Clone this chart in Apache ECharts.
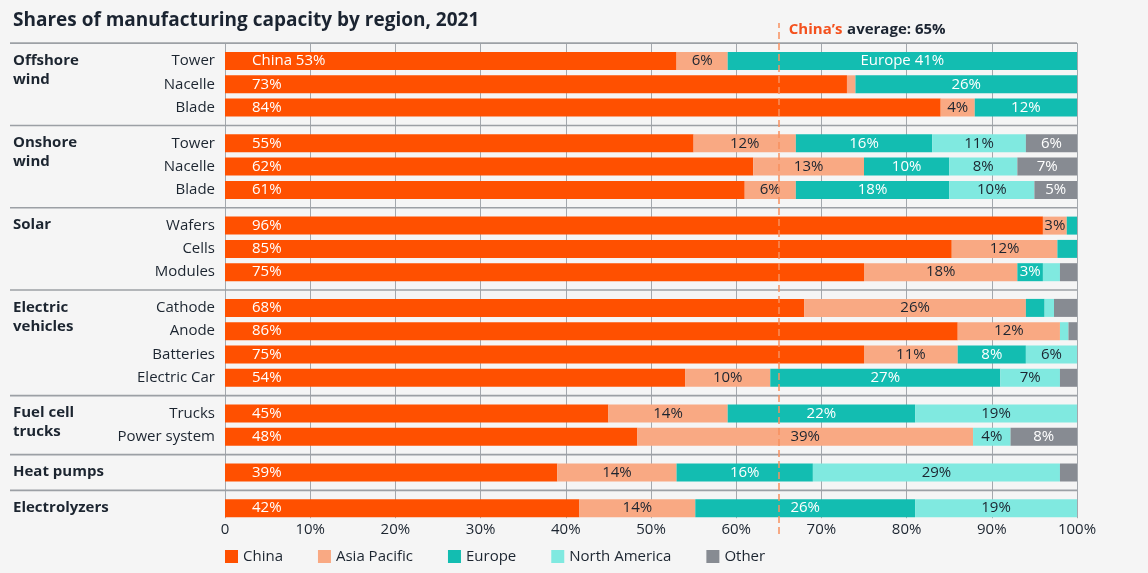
<!DOCTYPE html>
<html><head><meta charset="utf-8">
<script src="https://cdn.jsdelivr.net/npm/echarts@6/dist/echarts.min.js"></script>
<style>html,body{margin:0;padding:0;background:#f5f5f5}#c{width:1148px;height:573px}</style>
</head><body><div id="c"></div>
<script>
// ---- data ----
const regions = ['China', 'Asia Pacific', 'Europe', 'North America', 'Other'];
const groupNames = ['Offshore\nwind', 'Onshore\nwind', 'Solar', 'Electric\nvehicles', 'Fuel cell\ntrucks', 'Heat pumps', 'Electrolyzers'];
const groupSizes = [3, 3, 3, 4, 2, 1, 1];
const rowLabels = ['Tower', 'Nacelle', 'Blade', 'Tower', 'Nacelle', 'Blade', 'Wafers', 'Cells', 'Modules',
  'Cathode', 'Anode', 'Batteries', 'Electric Car', 'Trucks', 'Power system', '', ''];
const china        = [53, 73, 84, 55, 62, 61, 96, 85.3, 75, 68, 86, 75, 54, 45, 48.4, 39, 41.6];
const asiaPacific  = [6, 1, 4, 12, 13, 6, 2.8, 12.4, 18, 26, 12, 11, 10, 14, 39.4, 14, 13.6];
const europe       = [41, 26, 12, 16, 10, 18, 1.2, 2.3, 3, 2.2, 0, 8, 27, 22, 0, 16, 25.8];
const northAmerica = [0, 0, 0, 11, 8, 10, 0, 0, 2, 1.1, 1, 6, 7, 19, 4.4, 29, 19];
const other        = [0, 0, 0, 6, 7, 5, 0, 0, 2, 2.7, 1, 0, 2, 0, 7.8, 2, 0];
const xTickValues = [0, 10, 20, 30, 40, 50, 60, 70, 80, 90, 100];
const chinaAverage = 65;
const titleText = 'Shares of manufacturing capacity by region, 2021';

// ---- style / layout ----
const seriesValues = [china, asiaPacific, europe, northAmerica, other];
const colors = ['#FF5000', '#F9A983', '#13BDB1', '#80E9E0', '#878B92'];
const labelColors = ['#ffffff', '#1c2530', '#ffffff', '#1c2530', '#ffffff'];
const TXT = '#1c2530';
const FONT = 'Open Sans';
const W = 1148, H = 573;
const PL = 225, PR = 71;
const ROW0 = 61, P = 23.3, G = 12.4, BW = 18;

const grids = [], xAxes = [], yAxes = [], series = [], graphics = [];
let y = ROW0, idx = 0;
const sepColor = '#9ca0a5';
graphics.push({type: 'line', shape: {x1: 10, y1: ROW0 - (P + G) / 2, x2: W - PR, y2: ROW0 - (P + G) / 2},
  style: {stroke: sepColor, lineWidth: 1.6}, z: 5});
let lastBottom = 0;
groupSizes.forEach((n, gi) => {
  const first = y;
  const top = first - P / 2;
  grids.push({left: PL, right: PR, top: top, height: n * P});
  xAxes.push({gridIndex: gi, type: 'value', min: 0, max: 100, show: false});
  yAxes.push({gridIndex: gi, type: 'category', inverse: true, data: rowLabels.slice(idx, idx + n),
    axisLine: {show: false}, axisTick: {show: false}, splitLine: {show: false},
    axisLabel: {fontSize: 15, color: TXT, margin: 10, fontFamily: FONT}});
  regions.forEach((r, ri) => {
    const vals = seriesValues[ri].slice(idx, idx + n);
    const startIdx = idx;
    series.push({
      type: 'bar', name: r, stack: 'g' + gi, xAxisIndex: gi, yAxisIndex: gi, barWidth: BW,
      data: vals, itemStyle: {color: colors[ri]},
      label: {
        show: true, position: ri === 0 ? 'insideLeft' : 'inside', distance: ri === 0 ? 27 : 5,
        color: labelColors[ri], fontSize: 15, fontFamily: FONT,
        formatter: p => {
          const v = p.value;
          if (v < 2.75) return '';
          const s = Math.round(v) + '%';
          return (startIdx + p.dataIndex === 0 && v >= 20) ? r + ' ' + s : s;
        }
      }
    });
  });
  graphics.push({type: 'text', style: {text: groupNames[gi], x: 13, y: first - 10, font: 'bold 15px "' + FONT + '"',
    fill: TXT, lineHeight: 19, verticalAlign: 'top'}});
  const last = first + (n - 1) * P;
  if (gi < groupSizes.length - 1) {
    const sy = last + (P + G) / 2;
    graphics.push({type: 'line', shape: {x1: 10, y1: sy, x2: W - PR, y2: sy}, style: {stroke: sepColor, lineWidth: 1.6}, z: 5});
  }
  lastBottom = last + BW / 2;
  y = last + P + G;
  idx += n;
});

// grid for the vertical gridlines and tick labels
const gTop = ROW0 - (P + G) / 2;
grids.push({left: PL, right: PR, top: gTop, bottom: H - lastBottom - 1});
xAxes.push({gridIndex: 7, type: 'value', min: 0, max: 100, interval: 10, position: 'bottom',
  axisLine: {show: false}, axisTick: {show: false},
  splitLine: {show: true, lineStyle: {color: '#a4a8ad', width: 1}},
  axisLabel: {fontSize: 15, color: TXT, margin: 4, fontFamily: FONT,
    formatter: v => xTickValues.indexOf(v) < 0 ? '' : (v === 0 ? '0' : v + '%')}});
yAxes.push({gridIndex: 7, type: 'value', show: false, min: 0, max: 1});
series.push({type: 'line', xAxisIndex: 7, yAxisIndex: 7, data: [], silent: true});

// grid for the China average line
const avgColor = '#F7905F';
grids.push({left: PL, right: PR, top: 23, bottom: H - 534});
xAxes.push({gridIndex: 8, type: 'value', min: 0, max: 100, show: false});
yAxes.push({gridIndex: 8, type: 'value', min: 0, max: 1, show: false});
series.push({type: 'line', xAxisIndex: 8, yAxisIndex: 8, data: [], z: 20, color: avgColor,
  itemStyle: {color: avgColor}, lineStyle: {color: avgColor},
  markLine: {silent: true, symbol: ['none', 'none'], label: {show: false},
    itemStyle: {color: avgColor},
    lineStyle: {color: avgColor, type: [7, 4], width: 1.5, opacity: 1},
    emphasis: {disabled: true},
    data: [{xAxis: chinaAverage, lineStyle: {color: avgColor}}]}});

const plotW = W - PL - PR;
const chart = echarts.init(document.getElementById('c'), null, {renderer: 'canvas'});
chart.setOption({
  backgroundColor: '#f5f5f5',
  animation: false,
  textStyle: {fontFamily: FONT},
  title: [
    {text: titleText, left: 13, top: 11, padding: 0, textStyle: {fontSize: 19, fontWeight: 'bold', color: '#1b2431', fontFamily: FONT}},
    {text: '{a|China\u2019s} {b|average: ' + chinaAverage + '%}', left: PL + plotW * chinaAverage / 100 + 10, top: 21, padding: 0,
      textStyle: {rich: {a: {color: '#F4511E', fontWeight: 'bold', fontSize: 15, fontFamily: FONT},
        b: {color: '#1b2431', fontWeight: 'bold', fontSize: 15, fontFamily: FONT}}}}
  ],
  legend: {data: regions, left: PL, top: 549, padding: 0, icon: 'rect', itemWidth: 13, itemHeight: 13, itemGap: 35,
    textStyle: {fontSize: 15, color: TXT, fontFamily: FONT}},
  grid: grids, xAxis: xAxes, yAxis: yAxes, series: series,
  graphic: graphics
});
</script></body></html>
